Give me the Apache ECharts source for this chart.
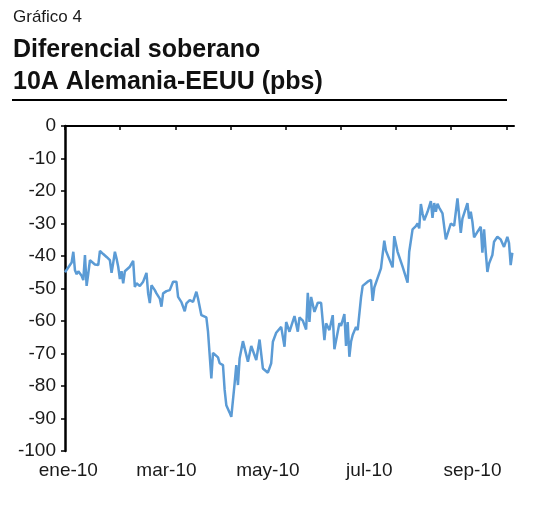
<!DOCTYPE html>
<html>
<head>
<meta charset="utf-8">
<script src="https://cdn.jsdelivr.net/npm/echarts@6/dist/echarts.min.js"></script>
<style>html,body{margin:0;padding:0;background:#fff;}#c{width:559px;height:528px;}</style>
</head>
<body>
<div id="c"></div>
<script>
// Day of year 2010 (0 = 1 Jan 2010) for each observation
var days = [-2,-1,2,3,4,5,6,8,9,10,11,12,13,14,16,17,18,19,21,23,25,26,27,28,29,30,31,32,33,34,35,37,39,40,41,43,45,47,48,49,50,52,53,55,56,57,59,61,63,65,66,68,70,71,73,75,77,78,80,83,84,86,87,90,91,93,94,95,97,98,100,101,102,103,105,108,110,113,115,117,120,122,123,125,128,130,131,133,136,138,139,141,143,144,145,146,148,150,152,154,155,157,159,160,161,163,164,166,167,168,169,170,171,173,174,176,177,180,182,183,184,188,190,191,195,196,198,201,204,205,207,209,210,211,212,213,214,216,218,219,220,221,222,223,225,227,228,230,232,234,236,237,240,241,242,243,244,246,248,249,250,251,252,253,255,256,258,260,262,264,265,266,267];
// Spread values (pbs)
var spread = [-45.0,-44.7,-42.0,-38.7,-44.4,-45.6,-44.7,-46.1,-47.4,-39.7,-49.2,-45.4,-41.3,-41.8,-42.6,-42.3,-42.8,-38.4,-39.4,-40.3,-41.3,-45.2,-42.1,-38.7,-40.8,-43.3,-47.1,-44.7,-48.4,-44.7,-44.9,-43.3,-41.5,-49.5,-48.4,-49.2,-47.9,-45.2,-51.5,-54.5,-49.0,-50.5,-51.5,-53.1,-55.6,-51.5,-50.8,-50.5,-47.9,-47.9,-52.6,-54.2,-57.0,-54.6,-53.6,-54.1,-51.0,-53.1,-58.2,-58.9,-63.3,-77.7,-69.8,-71.2,-73.0,-73.6,-81.2,-85.9,-88.2,-89.5,-79.2,-73.6,-79.7,-71.5,-66.2,-72.5,-67.7,-72.0,-65.7,-74.6,-75.9,-73.0,-66.4,-63.6,-61.8,-67.9,-60.3,-63.3,-58.5,-63.3,-58.9,-59.9,-62.6,-51.3,-60.3,-52.6,-57.2,-54.4,-54.4,-65.9,-60.7,-62.8,-58.2,-68.7,-69.0,-60.7,-61.5,-57.9,-67.7,-60.3,-71.0,-66.4,-64.3,-61.8,-62.8,-52.8,-49.2,-47.9,-47.3,-53.8,-49.7,-43.8,-35.3,-38.4,-43.5,-33.9,-38.7,-43.3,-48.2,-38.7,-31.8,-30.8,-30.0,-31.5,-24.0,-26.9,-29.0,-26.4,-23.1,-28.3,-23.7,-26.4,-23.9,-25.1,-26.9,-34.9,-34.3,-30.0,-30.7,-22.3,-32.9,-28.5,-23.7,-28.5,-26.4,-29.5,-34.3,-32.6,-31.0,-39.0,-31.8,-38.7,-44.9,-42.3,-39.7,-35.6,-34.1,-34.9,-37.2,-34.1,-36.0,-42.8,-39.0];
// X axis labels and their dates (day of year)
var labelDays = [0, 59, 120, 181, 243];
var labelTexts = ['ene-10', 'mar-10', 'may-10', 'jul-10', 'sep-10'];
// Tick marks along the top axis (day of year)
var tickDays = [-2, 31.2, 64.4, 97.4, 130.6, 163.7, 197, 230.2, 263.5];
// Y axis
var yMin = -100, yMax = 0, yStep = 10;
var titleSmall = 'Gráfico 4';
var titleLine1 = 'Diferencial soberano';
var titleLine2 = '10A Alemania-EEUU (pbs)';

var data = days.map(function (d, i) { return [d, spread[i]]; });
var FONT = '"Liberation Sans", Arial, sans-serif';
var chart = echarts.init(document.getElementById('c'), null, {renderer: 'canvas'});
chart.setOption({
  animation: false,
  backgroundColor: '#ffffff',
  graphic: [
    {type: 'text', left: 13, top: 9, style: {text: titleSmall, font: '17px ' + FONT, fill: '#1a1a1a'}},
    {type: 'text', left: 13, top: 38, style: {text: titleLine1, font: 'bold 25px ' + FONT, fill: '#111'}},
    {type: 'text', left: 13, top: 70, style: {text: titleLine2, font: 'bold 25px ' + FONT, fill: '#111'}},
    {type: 'line', shape: {x1: 12, y1: 100, x2: 507, y2: 100}, style: {stroke: '#000', lineWidth: 2}}
  ],
  grid: {left: 65, top: 126, width: 449, height: 325, containLabel: false},
  xAxis: [
    {
      type: 'value', position: 'top', min: -2, max: 268,
      axisLine: {show: true, onZero: false, lineStyle: {color: '#000', width: 2}},
      axisTick: {show: true, inside: true, length: 4, customValues: tickDays, lineStyle: {color: '#000', width: 1.5}},
      axisLabel: {show: false},
      splitLine: {show: false}
    },
    {
      type: 'value', position: 'bottom', min: -2, max: 268,
      axisLine: {show: false}, axisTick: {show: false}, splitLine: {show: false},
      axisLabel: {
        show: true, customValues: labelDays, margin: 10,
        fontFamily: FONT, fontSize: 19, color: '#1a1a1a',
        formatter: function (v) { var i = labelDays.indexOf(Math.round(v)); return i >= 0 ? labelTexts[i] : ''; }
      }
    }
  ],
  yAxis: {
    type: 'value', min: yMin, max: yMax, interval: yStep,
    axisLine: {show: true, onZero: false, lineStyle: {color: '#000', width: 2.5}},
    axisTick: {show: true, length: 4, lineStyle: {color: '#000', width: 1.5}},
    axisLabel: {fontFamily: FONT, fontSize: 19, color: '#1a1a1a', margin: 9},
    splitLine: {show: false}
  },
  series: [{
    type: 'line', xAxisIndex: 0, data: data, showSymbol: false,
    lineStyle: {color: '#5b9bd5', width: 2.5}, itemStyle: {color: '#5b9bd5'}
  }]
});
</script>
</body>
</html>
